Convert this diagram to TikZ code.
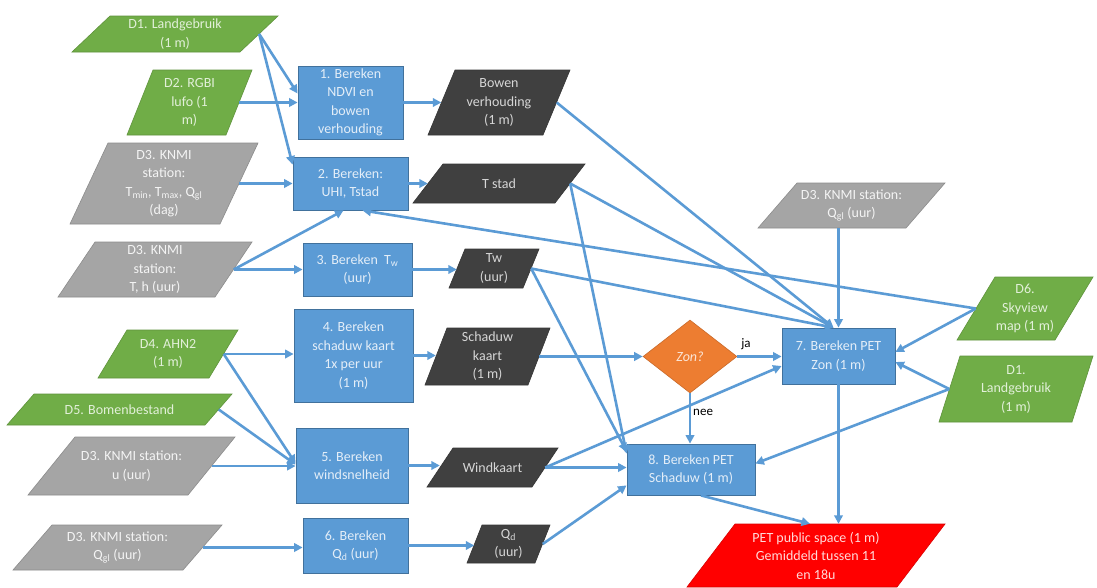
\documentclass[tikz,border=0pt]{standalone}
\usepackage{fontspec}
\setmainfont{Carlito}
\usetikzlibrary{arrows.meta,shapes.geometric,calc}
\definecolor{cgreen}{HTML}{70AD47}
\definecolor{cgray}{HTML}{A5A5A5}
\definecolor{cdark}{HTML}{404040}
\definecolor{cblue}{HTML}{5B9BD5}
\definecolor{cblueb}{HTML}{41719C}
\definecolor{corange}{HTML}{ED7D31}
\definecolor{cred}{HTML}{FF0000}
\definecolor{cline}{HTML}{5B9BD5}
\definecolor{tgreen}{HTML}{E2F0D9}
\definecolor{tgray}{HTML}{F4F4F4}
\definecolor{tdark}{HTML}{D6D6D6}
\definecolor{tblue}{HTML}{E4EEF8}
\definecolor{torange}{HTML}{FBE5D6}
\definecolor{tred}{HTML}{FFDADA}
\newcommand\dpara[9]{%
  \fill[#7] (#2-#4/2+#6,#3-#5/2) -- (#2+#4/2,#3-#5/2) -- (#2+#4/2-#6,#3+#5/2) -- (#2-#4/2,#3+#5/2) -- cycle;
  \node[ptxt,minimum width=#4-#6,minimum height=#5,#8] (#1) at (#2,#3) {#9};
}
\begin{document}
\begin{tikzpicture}[x=1pt,y=-1pt,
  ptxt/.style={rectangle,inner sep=0pt,align=center,font=\fontsize{14}{18.5}\selectfont},
  pg/.style={fill=cgreen,draw=cgreen!85!black,line width=0.6pt},
  pgr/.style={fill=cgray,draw=cgray!85!black,line width=0.6pt},
  pd/.style={fill=cdark,draw=cdark!85!black,line width=0.6pt},
  pr/.style={fill=cred,draw=cred!85!black,line width=0.6pt},
  tg/.style={text=tgreen},
  tgr/.style={text=tgray},
  td/.style={text=tdark},
  tr/.style={text=tred},
  bbox/.style={rectangle,fill=cblue,draw=cblueb,line width=0.8pt,text=tblue,align=center,inner sep=0pt,font=\fontsize{14}{18.5}\selectfont},
  conn/.style={draw=cline,line width=2.6pt,-{Triangle[length=8.5pt,width=8.5pt]}},
  lbl/.style={inner sep=1pt,text=black,font=\fontsize{13}{15}\selectfont},
]
\useasboundingbox[fill=white] (0,0) rectangle (1097,587);

% left data
\dpara{d1}{175}{34}{206}{36}{38}{pg}{tg}{D1. Landgebruik\\(1 m)}
\dpara{d2}{189.5}{102.5}{125}{65}{26}{pg}{tg}{D2. RGBI\\lufo (1\\m)}
\dpara{d3a}{164}{183.5}{188}{81}{38}{pgr}{tgr}{D3. KNMI\\station:\\T\textsubscript{min}, T\textsubscript{max}, Q\textsubscript{gl}\\(dag)}
\dpara{d3b}{155}{269.5}{194}{55}{37}{pgr}{tgr}{D3. KNMI\\station:\\T, h (uur)}
\dpara{d4}{168}{354}{140}{48}{29}{pg}{tg}{D4. AHN2\\(1 m)}
\dpara{d5}{119.5}{409.5}{225}{31}{27}{pg}{tg}{D5. Bomenbestand}
\dpara{d3u}{131.5}{466}{207}{58}{47}{pgr}{tgr}{D3. KNMI station:\\u (uur)}
\dpara{d3q}{117.5}{547.5}{209}{45}{39}{pgr}{tgr}{D3. KNMI station:\\Q\textsubscript{gl} (uur)}

% intermediate data
\dpara{bowen}{499}{102.5}{142}{65}{27}{pd}{td}{Bowen\\verhouding\\(1 m)}
\dpara{tstad}{499}{183.5}{172}{39}{30}{pd}{td}{T stad}
\dpara{tw}{494}{268.5}{90}{39}{16}{pd}{td}{Tw\\(uur)}
\dpara{schaduw}{487.5}{356.5}{125}{57}{22}{pd}{td}{Schaduw\\kaart\\(1 m)}
\dpara{wind}{492.5}{467.5}{131}{39}{26}{pd}{td}{Windkaart}
\dpara{qd}{508.5}{544}{83}{38}{15}{pd}{td}{Q\textsubscript{d}\\(uur)}

% right data
\dpara{d3r}{851.5}{205.5}{187}{45}{39}{pgr}{tgr}{D3. KNMI station:\\Q\textsubscript{gl} (uur)}
\dpara{d6}{1025}{308.5}{136}{63}{38}{pg}{tg}{D6.\\Skyview\\map (1 m)}
\dpara{d1r}{1016}{389}{154}{66}{21}{pg}{tg}{D1.\\Landgebruik\\(1 m)}
\dpara{pet}{816}{555.5}{258}{63}{48}{pr}{tr}{PET public space (1 m)\\Gemiddeld tussen 11\\en 18u}

% processes
\node[bbox,minimum width=105,minimum height=73] (b1) at (350.5,102.5) {1. Bereken\\NDVI en\\bowen\\verhouding};
\node[bbox,minimum width=115,minimum height=53] (b2) at (350.5,183.5) {2. Bereken:\\UHI, Tstad};
\node[bbox,minimum width=109,minimum height=53] (b3) at (357.5,269.5) {3. Bereken\ \ T\textsubscript{w}\\(uur)};
\node[bbox,minimum width=119,minimum height=93] (b4) at (353.5,355.5) {4. Bereken\\schaduw kaart\\1x per uur\\(1 m)};
\node[bbox,minimum width=112,minimum height=75] (b5) at (352,465.5) {5. Bereken\\windsnelheid};
\node[bbox,minimum width=105,minimum height=55] (b6) at (355.5,545.5) {6. Bereken\\Q\textsubscript{d} (uur)};
\node[bbox,minimum width=113,minimum height=56] (b7) at (838.5,356) {7. Bereken PET\\Zon (1 m)};
\node[bbox,minimum width=128,minimum height=51] (b8) at (691,469.5) {8. Bereken PET\\Schaduw (1 m)};
\node[diamond,fill=corange,draw=corange!85!black,line width=0.6pt,minimum width=94,minimum height=73,inner sep=0pt,text=torange,font=\itshape\fontsize{14}{16}\selectfont] (zon) at (690,356.5) {Zon?};

% connectors left
\draw[conn] (d1.east) -- ([yshift=9pt]b1.west);
\draw[conn] (d1.east) -- ([yshift=-8pt]b2.north west);
\draw[conn] (d2.east) -- (d2.east -| b1.west);
\draw[conn] (d3a.east) -- (d3a.east -| b2.west);
\draw[conn] (d3b.east) -- (d3b.east -| b3.west);
\draw[conn] (d3b.east) -- ([xshift=-7pt]b2.south);
\draw[conn] (d4.east) -- (d4.east -| b4.west);
\draw[conn] (d4.east) -- ([yshift=2pt]b5.west);
\draw[conn] (d5.east) -- ([yshift=1pt]b5.west);
\draw[conn] (d3u.east) -- (d3u.east -| b5.west);
\draw[conn] (d3q.east) -- (d3q.east -| b6.west);

% processes to data
\draw[conn] (b1.east) -- (b1.east -| bowen.west);
\draw[conn] (b2.east) -- (b2.east -| tstad.west);
\draw[conn] (b3.east) -- (b3.east -| tw.west);
\draw[conn] (b4.east) -- (b4.east -| schaduw.west);
\draw[conn] (b5.east) -- (b5.east -| wind.west);
\draw[conn] (b6.east) -- (b6.east -| qd.west);

% right side
\draw[conn] (d6.west) -- ([xshift=12pt]b2.south);
\draw[conn] (bowen.east) -- ([xshift=-5pt]b7.north);
\draw[conn] (tstad.east) -- ([xshift=-5pt]b7.north);
\draw[conn] (tw.east) -- ([xshift=-5pt]b7.north);
\draw[conn] (d3r.south -| b7.north) -- (b7.north);
\draw[conn] (tstad.east) -- ([yshift=-10pt]b8.north west);
\draw[conn] (tw.east) -- ([yshift=-8pt]b8.north west);
\draw[conn] (schaduw.east) -- (zon.west);
\draw[conn] (zon.east) -- (zon.east -| b7.west);
\draw[conn] (zon.south) -- (zon.south |- b8.north);
\draw[conn] (wind.east) -- ([yshift=-10pt]b7.west);
\draw[conn] (wind.east) -- (wind.east -| b8.west);
\draw[conn] (qd.east) -- ([yshift=10pt]b8.south west);
\draw[conn] (d6.west) -- ([yshift=4pt]b7.east);
\draw[conn] (d1r.west) -- ([yshift=-6pt]b7.east);
\draw[conn] (d1r.west) -- ([yshift=6pt]b8.east);
\draw[conn] ([xshift=10pt]b8.south) -- ([xshift=-6pt]pet.north);
\draw[conn] (b7.south) -- (b7.south |- pet.north);

\node[lbl] (ja) at (746,344) {ja};
\node[lbl,anchor=west] (nee) at (692,412) {nee};
\end{tikzpicture}
\end{document}
